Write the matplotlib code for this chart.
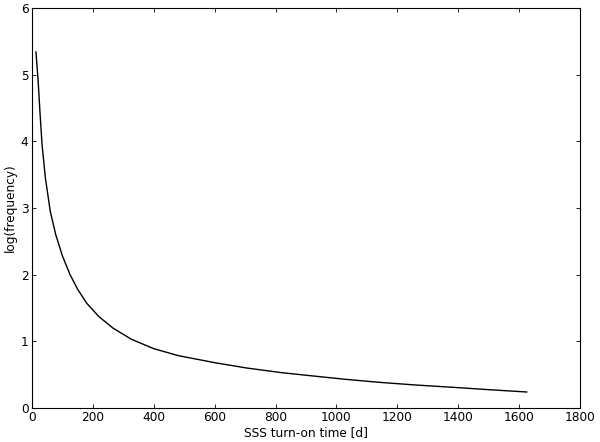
import matplotlib
matplotlib.use('Agg')
import matplotlib.pyplot as plt

# values
turn_on_days = [13, 20, 26, 33, 44, 60, 78, 100, 125, 150, 180, 220, 267,
                327, 400, 481, 600, 705, 820, 924, 1030, 1141, 1260, 1384,
                1500, 1625]
log_freq = [5.34, 4.92, 4.45, 3.95, 3.45, 2.95, 2.60, 2.28, 2.00, 1.78, 1.57,
            1.37, 1.195, 1.03, 0.89, 0.785, 0.68, 0.60, 0.53, 0.48, 0.43,
            0.385, 0.345, 0.31, 0.275, 0.24]

x_ticks = [0, 200, 400, 600, 800, 1000, 1200, 1400, 1600, 1800]
y_ticks = [0, 1, 2, 3, 4, 5, 6]

fs = 8.7

fig = plt.figure(figsize=(6.0, 4.42), dpi=100)
ax = fig.add_axes([32 / 600, 34 / 442, 548 / 600, 400 / 442])

ax.plot(turn_on_days, log_freq, color='black', linewidth=1.0)

ax.set_xlim(0, 1800)
ax.set_ylim(0, 6)
ax.set_xticks(x_ticks)
ax.set_yticks(y_ticks)
ax.tick_params(direction='in', top=True, right=True, length=3, width=0.6,
               labelsize=fs, pad=2.5)
for s in ax.spines.values():
    s.set_linewidth(0.8)

ax.set_xlabel('SSS turn-on time [d]', fontsize=fs, labelpad=1)
ax.set_ylabel('log(frequency)', fontsize=fs, labelpad=3)

fig.savefig('out.png', dpi=100)
